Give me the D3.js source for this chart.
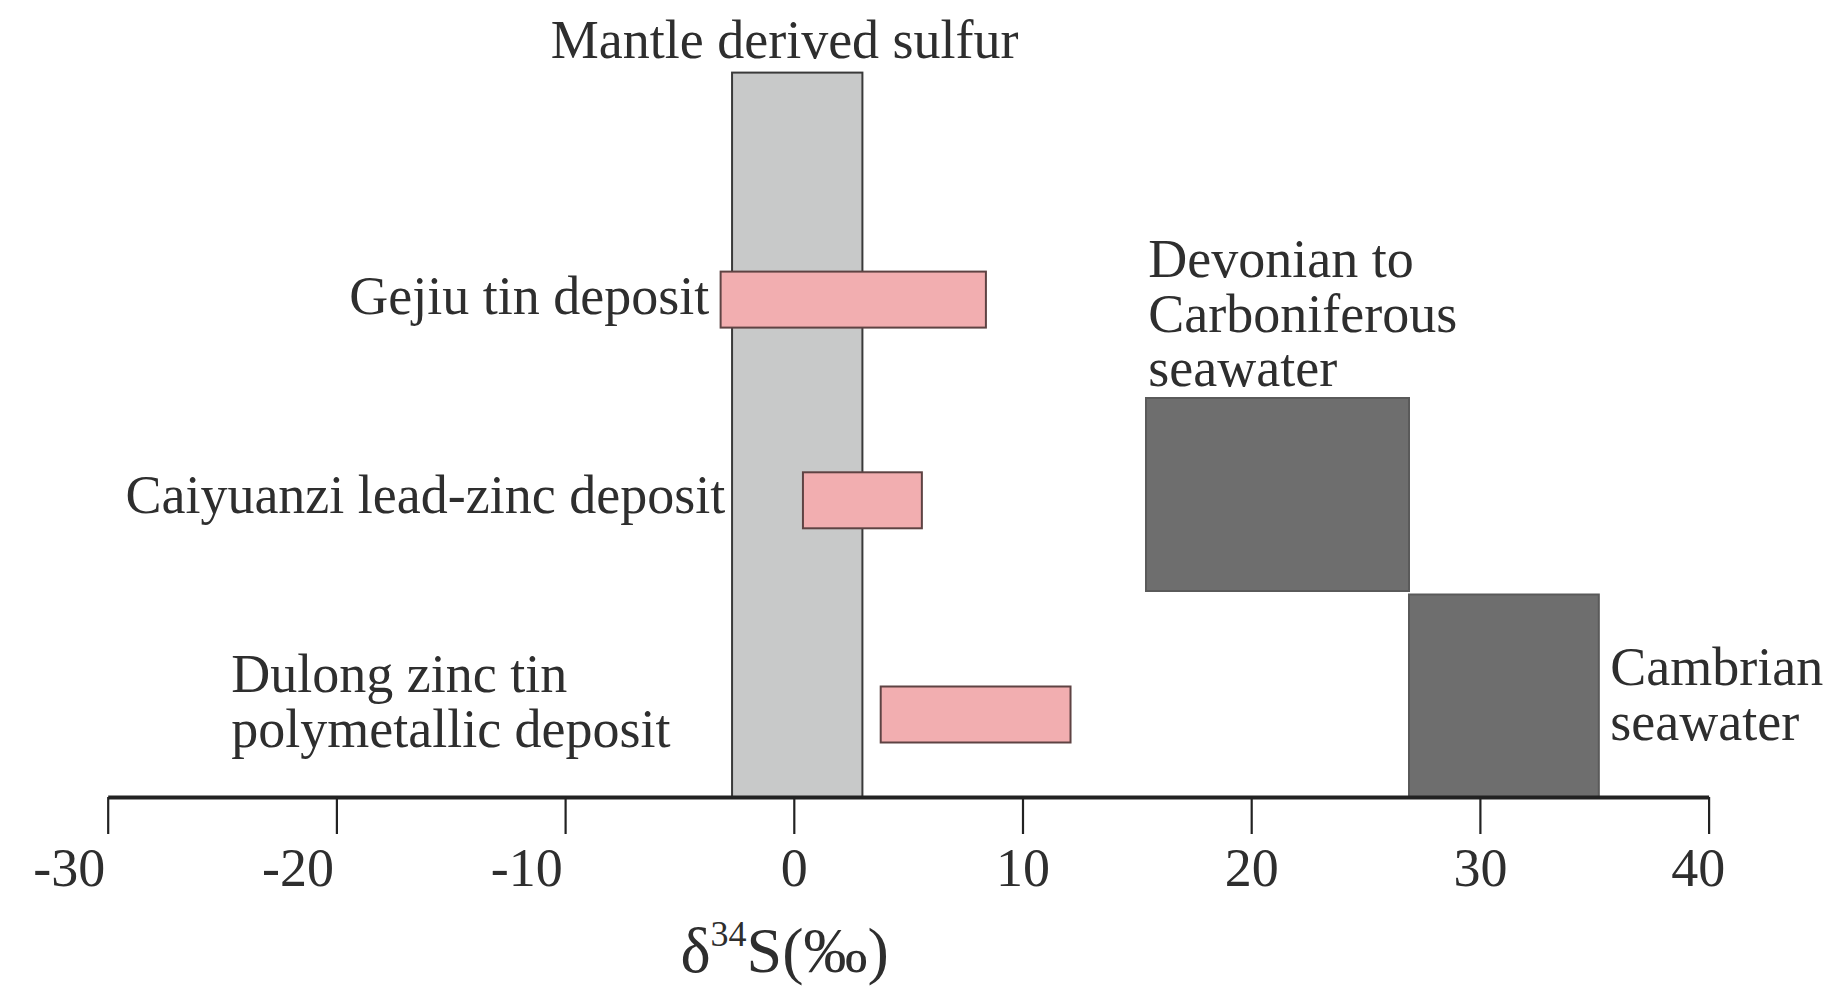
<!DOCTYPE html>
<html>
<head>
<meta charset="utf-8">
<script src="https://cdn.jsdelivr.net/npm/d3@7"></script>
<style>
  html, body { margin: 0; padding: 0; background: #fff; }
  svg { display: block; }
  text { font-family: "Liberation Serif", "Times New Roman", serif; fill: #2e2e2e; }
</style>
</head>
<body>
<svg id="chart" width="1835" height="1006"></svg>
<script>
// ---- data ----
const categories = ["Gejiu tin deposit", "Caiyuanzi lead-zinc deposit", "Dulong zinc tin polymetallic deposit"];
const depositMin = [-3.2, 0.4, 3.8];
const depositMax = [8.4, 5.6, 12.1];
const referenceNames = ["Mantle derived sulfur", "Devonian to Carboniferous seawater", "Cambrian seawater"];
const referenceMin = [-2.7, 15.4, 26.9];
const referenceMax = [3.0, 26.9, 35.2];
const xTicks = [-30, -20, -10, 0, 10, 20, 30, 40];
const xTitle = ["δ", "34", "S(‰)"];

// ---- layout ----
const W = 1835, H = 1006;
const axisY = 797;
const rowY = [299.6, 500.3, 714.5];
const barH = 56;
const refTop = [72.6, 398, 594.5];
const refBottom = [797, 591, 797];
const fontSize = 54;

const svg = d3.select("#chart");
const x = d3.scaleLinear().domain([-30, 40]).range([107.7, 1708.6]);

// reference boxes
const refFill = ["#c8c9c9", "#6e6e6e", "#6e6e6e"];
const refStroke = ["#3a3a3a", "#5a5a5a", "#5a5a5a"];
svg.append("g").selectAll("rect")
  .data(referenceNames)
  .join("rect")
  .attr("x", (d, i) => x(referenceMin[i]))
  .attr("width", (d, i) => x(referenceMax[i]) - x(referenceMin[i]))
  .attr("y", (d, i) => refTop[i])
  .attr("height", (d, i) => refBottom[i] - refTop[i])
  .attr("fill", (d, i) => refFill[i])
  .attr("stroke", (d, i) => refStroke[i])
  .attr("stroke-width", 2);

// deposit bars
svg.append("g").selectAll("rect")
  .data(categories)
  .join("rect")
  .attr("x", (d, i) => x(depositMin[i]))
  .attr("width", (d, i) => x(depositMax[i]) - x(depositMin[i]))
  .attr("y", (d, i) => rowY[i] - barH / 2)
  .attr("height", barH)
  .attr("fill", "#f2aeb0")
  .attr("stroke", "#5e4343")
  .attr("stroke-width", 2);

// axis
const axis = d3.axisBottom(x)
  .tickValues(xTicks)
  .tickSize(37)
  .tickSizeOuter(0)
  .tickPadding(14)
  .tickFormat(d3.format("d"));
const gAxis = svg.append("g").attr("transform", `translate(0,${axisY})`).call(axis);
gAxis.select(".domain").attr("stroke", "#222").attr("stroke-width", 4);
gAxis.selectAll(".tick line").attr("stroke", "#222").attr("stroke-width", 2.2);
gAxis.selectAll(".tick text")
  .attr("font-family", "Liberation Serif, serif")
  .attr("font-size", fontSize)
  .attr("fill", "#2e2e2e")
  .attr("dx", d => d < 0 ? "-0.72em" : (d === 40 ? "-0.2em" : 0))
  .text(d => d < 0 ? "-" + Math.abs(d) : String(d));

// axis title
const title = svg.append("text")
  .attr("x", x(-0.4))
  .attr("y", 972)
  .attr("text-anchor", "middle")
  .attr("font-size", 64);
title.append("tspan").text(xTitle[0]);
title.append("tspan").attr("font-size", 36).attr("dy", -26).text(xTitle[1]);
title.append("tspan").attr("dy", 26).text(xTitle[2]);

// deposit labels
function label(lines, xv, y, anchor) {
  const t = svg.append("text")
    .attr("x", x(xv)).attr("y", y)
    .attr("text-anchor", anchor)
    .attr("font-size", fontSize);
  lines.forEach((ln, k) => {
    t.append("tspan").attr("x", x(xv)).attr("dy", k === 0 ? 0 : 54.5).text(ln);
  });
}
label(["Mantle derived sulfur"], -0.4, 58, "middle");
label([categories[0]], -3.7, 314, "end");
label([categories[1]], -3.0, 513, "end");
label(["Dulong zinc tin", "polymetallic deposit"], -24.6, 692, "start");
label(["Devonian to", "Carboniferous", "seawater"], 15.5, 277, "start");
label(["Cambrian", "seawater"], 35.7, 685, "start");
</script>
</body>
</html>
